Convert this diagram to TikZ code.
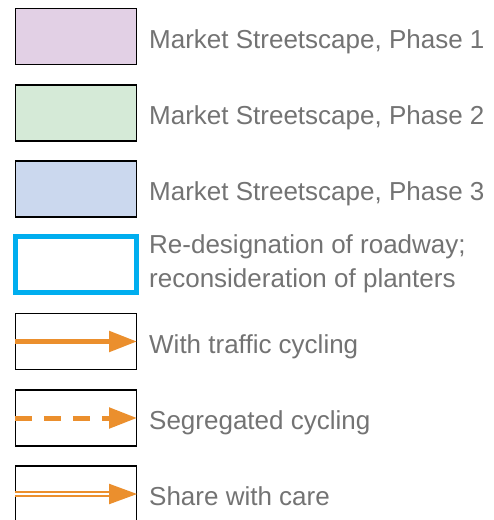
\documentclass[tikz,border=0pt]{standalone}
\usepackage{fontspec}
\setmainfont{Liberation Sans}
\usetikzlibrary{arrows.meta}

\definecolor{phaseone}{HTML}{E2D0E5}
\definecolor{phasetwo}{HTML}{D5EAD7}
\definecolor{phasethree}{HTML}{CBD8EE}
\definecolor{roadcyan}{HTML}{00AEEF}
\definecolor{bikeorange}{HTML}{EB8F2D}
\definecolor{keygray}{HTML}{737373}

\begin{document}
\begin{tikzpicture}[x=1pt, y=-1pt,
    keybox/.style={draw=black, line width=1.2pt, minimum width=121pt, minimum height=56pt, inner sep=0pt},
    keytext/.style={anchor=base west, inner sep=0pt, text=keygray, align=left, font=\fontsize{26}{34}\selectfont},
    bikeline/.style={draw=bikeorange, line width=5pt, -{Triangle[length=28pt, width=20pt]}}]
    \useasboundingbox (0,0) rectangle (494,520);

    % Streetscape phases
    \foreach \n/\c/\y in {1/phaseone/36.5, 2/phasetwo/113, 3/phasethree/189} {
        \node[keybox, fill=\c] (phase\n) at (76,\y) {};
        \node[keytext] (phase\n label) at (149,\y+11.5) {Market Streetscape, Phase \n};
    }

    % Roadway
    \node[keybox, draw=roadcyan, line width=5pt] (road) at (76,264.5) {};
    \node[keytext] (road label) at (149,287) {Re-designation of roadway;\\reconsideration of planters};

    % Cycling
    \node[keybox] (traffic) at (76,341.5) {};
    \node[keytext] (traffic label) at (149,353) {With traffic cycling};
    \draw[bikeline] (traffic.west) -- (traffic.east);

    \node[keybox] (segregated) at (76,418) {};
    \node[keytext] (segregated label) at (149,429.5) {Segregated cycling};
    \draw[bikeline, dash pattern=on 17pt off 12pt] (segregated.west) -- (segregated.east);

    \node[keybox] (care) at (76,494) {};
    \node[keytext] (care label) at (149,505.5) {Share with care};
    \draw[bikeline, line width=2pt, double=white, double distance=2pt] (care.west) -- (care.east);
\end{tikzpicture}
\end{document}
